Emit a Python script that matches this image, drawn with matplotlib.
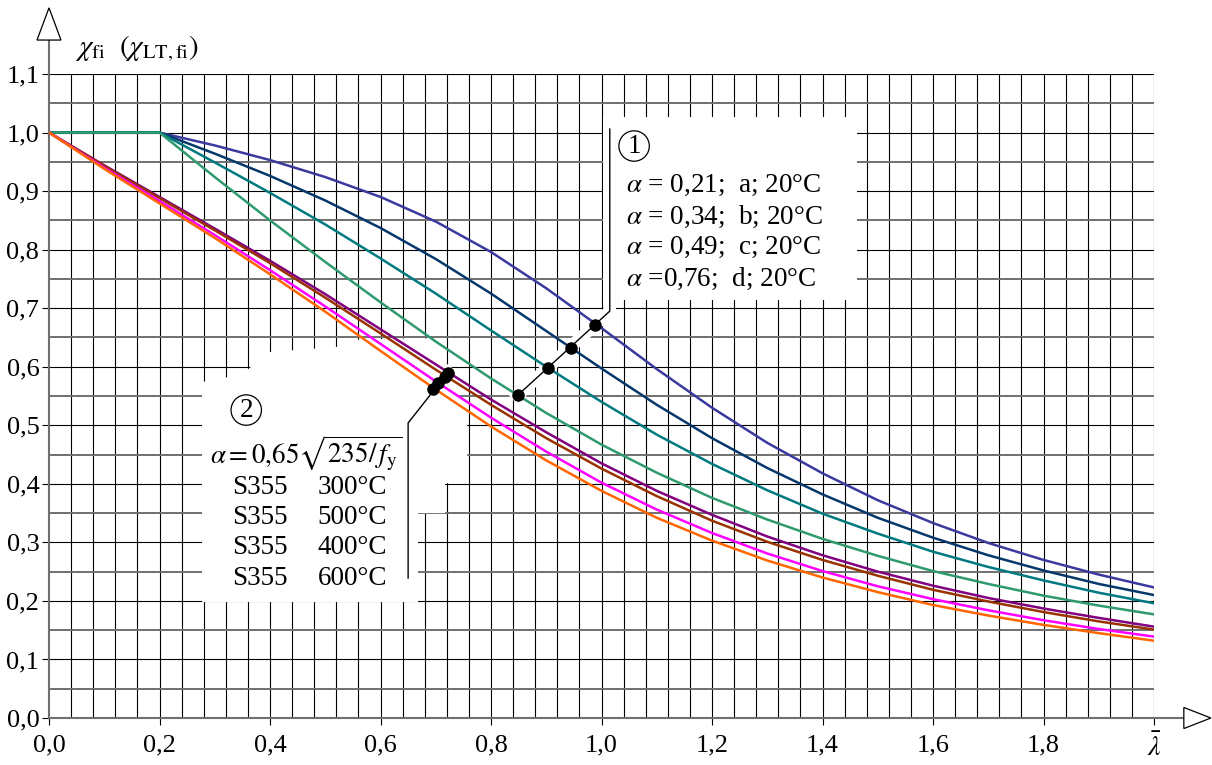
import matplotlib
matplotlib.use('Agg')
import matplotlib.pyplot as plt
import matplotlib.patheffects as pe
from matplotlib.patches import Polygon
import numpy as np

plt.rcParams['font.family'] = ['Liberation Serif', 'DejaVu Serif']
plt.rcParams['mathtext.fontset'] = 'stix'

# relative slenderness
lam = [0.0, 0.1, 0.2, 0.3, 0.4, 0.5, 0.6, 0.7, 0.8, 0.9, 1.0,
       1.1, 1.2, 1.3, 1.4, 1.5, 1.6, 1.7, 1.8, 1.9, 2.0]

# 20 C buckling curves a, b, c, d
chi_a = [1.0, 1.0, 1.0, 0.978, 0.953, 0.924, 0.890, 0.848, 0.796, 0.734, 0.666,
         0.596, 0.530, 0.470, 0.418, 0.372, 0.333, 0.299, 0.270, 0.245, 0.223]
chi_b = [1.0, 1.0, 1.0, 0.964, 0.926, 0.884, 0.837, 0.784, 0.725, 0.661, 0.597,
         0.535, 0.478, 0.427, 0.382, 0.342, 0.308, 0.278, 0.252, 0.229, 0.210]
chi_c = [1.0, 1.0, 1.0, 0.949, 0.897, 0.843, 0.785, 0.725, 0.662, 0.600, 0.540,
         0.484, 0.434, 0.389, 0.349, 0.315, 0.284, 0.258, 0.235, 0.214, 0.196]
chi_d = [1.0, 1.0, 1.0, 0.924, 0.850, 0.779, 0.710, 0.643, 0.580, 0.521, 0.467,
         0.419, 0.376, 0.339, 0.306, 0.277, 0.251, 0.229, 0.209, 0.192, 0.177]

# fire curves, S355
chi_300 = [1.0, 0.944, 0.890, 0.836, 0.781, 0.724, 0.664, 0.604, 0.544, 0.488, 0.435,
           0.388, 0.347, 0.310, 0.278, 0.250, 0.226, 0.205, 0.187, 0.171, 0.156]
chi_500 = [1.0, 0.943, 0.888, 0.833, 0.777, 0.718, 0.657, 0.595, 0.535, 0.478, 0.426,
           0.379, 0.337, 0.301, 0.270, 0.243, 0.219, 0.199, 0.181, 0.165, 0.151]
chi_400 = [1.0, 0.940, 0.883, 0.825, 0.765, 0.703, 0.639, 0.575, 0.513, 0.455, 0.402,
           0.356, 0.316, 0.281, 0.251, 0.225, 0.203, 0.184, 0.167, 0.152, 0.139]
chi_600 = [1.0, 0.938, 0.879, 0.820, 0.758, 0.694, 0.627, 0.561, 0.498, 0.440, 0.388,
           0.342, 0.303, 0.269, 0.240, 0.215, 0.193, 0.175, 0.159, 0.145, 0.132]

# marked points on the leader lines
dots1_x = [0.848, 0.903, 0.944, 0.989]
dots1_y = [0.551, 0.597, 0.632, 0.672]
dots2_x = [0.695, 0.704, 0.717, 0.722]
dots2_y = [0.562, 0.572, 0.583, 0.590]

x_ticks = [0.0, 0.2, 0.4, 0.6, 0.8, 1.0, 1.2, 1.4, 1.6, 1.8, 2.0]
x_tick_labels = ['0,0', '0,2', '0,4', '0,6', '0,8', '1,0', '1,2', '1,4', '1,6', '1,8', '']
y_ticks = [0.0, 0.1, 0.2, 0.3, 0.4, 0.5, 0.6, 0.7, 0.8, 0.9, 1.0, 1.1]
y_tick_labels = ['0,0', '0,1', '0,2', '0,3', '0,4', '0,5', '0,6', '0,7', '0,8', '0,9',
                 '1,0', '1,1']

box1_lines = [r'$\alpha$ = 0,21;  a; 20°C', r'$\alpha$ = 0,34;  b; 20°C',
              r'$\alpha$ = 0,49;  c; 20°C', r'$\alpha$ =0,76;  d; 20°C']
box2_steel = ['S355', 'S355', 'S355', 'S355']
box2_temp = ['300°C', '500°C', '400°C', '600°C']

fig = plt.figure(figsize=(12.12, 7.65), dpi=100)
ax = fig.add_axes([49 / 1212, 47 / 765, 1105 / 1212, 644 / 765])
ax.set_xlim(0, 2.0)
ax.set_ylim(0, 1.1)
for s in ax.spines.values():
    s.set_visible(False)

# grid
ax.vlines(np.arange(1, 51) * 0.04, 0, 1.1, colors='black', lw=0.8, zorder=1)
ax.hlines(np.arange(1, 12) * 0.1, 0, 2.0, colors='black', lw=0.8, zorder=1)
ax.hlines(np.arange(0, 11) * 0.1 + 0.05, 0, 2.0, colors='#707070', lw=1.4, zorder=1)

# white areas behind the notes
ax.add_patch(Polygon([(1.003, 0.714), (1.003, 1.026), (1.462, 1.026), (1.462, 0.714)],
                     closed=True, fc='white', ec='none', zorder=2))
ax.add_patch(Polygon([(0.277, 0.198), (0.668, 0.198), (0.668, 0.350), (0.717, 0.350),
                      (0.717, 0.401), (0.757, 0.401), (0.757, 0.521), (0.720, 0.599),
                      (0.681, 0.649), (0.559, 0.646), (0.521, 0.634), (0.400, 0.625),
                      (0.358, 0.594), (0.319, 0.581), (0.277, 0.574)],
                     closed=True, fc='white', ec='none', zorder=2))

# axes with open arrow heads
ax.plot([0, 0], [0, 1.158], color='#707070', lw=1.5, clip_on=False, zorder=3)
ax.plot([0, 2.054], [0, 0], color='#707070', lw=1.5, clip_on=False, zorder=3)
ax.add_patch(Polygon([(-0.0217, 1.158), (0.0217, 1.158), (0, 1.213)], closed=True,
                     fc='white', ec='black', lw=0.9, clip_on=False, zorder=3))
ax.add_patch(Polygon([(2.054, -0.018), (2.054, 0.018), (2.103, 0)], closed=True,
                     fc='white', ec='black', lw=0.9, clip_on=False, zorder=3))

# leader lines with a white halo
halo = [pe.Stroke(linewidth=9, foreground='white'), pe.Normal()]
ax.plot([dots1_x[0], 1.015, 1.015], [dots1_y[0], 0.695, 1.006], color='black', lw=1.0,
        path_effects=halo, zorder=2.5, clip_on=False)
ax.plot([dots2_x[-1], 0.650, 0.650], [dots2_y[-1], 0.504, 0.239], color='black', lw=1.0,
        path_effects=halo, zorder=2.5)

# curves
lw = 1.8
ax.plot(lam, chi_a, color='#3a3a9e', lw=lw, zorder=4)
ax.plot(lam, chi_b, color='#06386b', lw=lw, zorder=4)
ax.plot(lam, chi_c, color='#007a80', lw=lw, zorder=4)
ax.plot(lam, chi_d, color='#2e9a6e', lw=lw, zorder=4)
ax.plot(lam, chi_300, color='#800080', lw=lw, zorder=4)
ax.plot(lam, chi_500, color='#993300', lw=lw, zorder=4)
ax.plot(lam, chi_400, color='#ff00ff', lw=lw, zorder=4)
ax.plot(lam, chi_600, color='#ff6600', lw=lw, zorder=4)

ax.plot(dots1_x, dots1_y, 'o', color='black', ms=8, zorder=5)
ax.plot(dots2_x, dots2_y, 'o', color='black', ms=8, zorder=5)

# ticks
ax.set_xticks(x_ticks)
ax.set_xticklabels(x_tick_labels)
ax.set_yticks(y_ticks)
ax.set_yticklabels(y_tick_labels)
ax.tick_params(axis='both', length=5, width=0.8, color='black', labelsize=19, pad=2)
ax.tick_params(axis='x', pad=7)
ax.text(2.0, -0.051, r'$\bar{\lambda}$', fontsize=20, ha='center', va='center',
        clip_on=False)

# axis title
ax.text(0.047, 1.143, r'$\chi_{\mathrm{fi}}\ \ (\chi_{\mathrm{LT,fi}})$', fontsize=21,
        ha='left', va='center', clip_on=False)

# note 1
fs = 19.5
circ = dict(boxstyle='circle,pad=0.1', fc='white', ec='black', lw=0.9)
ax.text(1.059, 0.977, '1', fontsize=fs, ha='center', va='center', bbox=circ, zorder=6)
for i, t in enumerate(box1_lines):
    ax.text(1.044, 0.910 - i * 0.0535, t, fontsize=fs, ha='left', va='center', zorder=6)

# note 2
ax.text(0.357, 0.526, '2', fontsize=fs, ha='center', va='center', bbox=circ, zorder=6)
ax.text(0.291, 0.453, r'$\alpha = 0{,}65\sqrt{235/\,f_{\mathrm{y}}}$', fontsize=fs,
        ha='left', va='center', zorder=6)
for i in range(4):
    yy = 0.393 - i * 0.0513
    ax.text(0.331, yy, box2_steel[i], fontsize=fs, ha='left', va='center', zorder=6)
    ax.text(0.612, yy, box2_temp[i], fontsize=fs, ha='right', va='center', zorder=6)

fig.savefig('out.png', dpi=100)
